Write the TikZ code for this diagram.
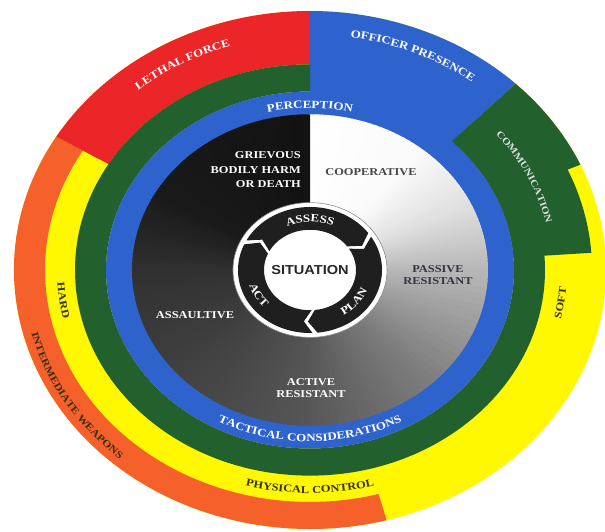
\documentclass[tikz,border=0pt]{standalone}
\usepackage{fontspec}
\usetikzlibrary{decorations.text}

\newfontfamily\ringfont[FakeStretch=1.18]{Liberation Serif}
\newfontfamily\sitfont[FakeStretch=1.12]{Liberation Sans}

\definecolor{lethalred}{RGB}{236,38,40}
\definecolor{presblue}{RGB}{46,98,204}
\definecolor{commgreen}{RGB}{34,96,46}
\definecolor{softyellow}{RGB}{255,248,0}
\definecolor{weaporange}{RGB}{246,96,42}
\definecolor{labeldark}{RGB}{52,48,22}
\definecolor{coopgray}{RGB}{70,70,70}
\definecolor{passivetext}{RGB}{58,50,64}

\tikzset{
  lbl/.style={font=\ringfont\bfseries\fontsize{10.5}{12.5}\selectfont, inner sep=0pt, align=center},
}

% annular sector: colour, from, to, outer radius, inner radius
\newcommand{\ringsector}[5]{%
  \fill[#1] (#2:#4) arc[start angle=#2, end angle=#3, radius=#4]
    -- (#3:#5) arc[start angle=#3, end angle=#2, radius=#5] -- cycle;}
% text on an arc: from, to, radius, text, format
\newcommand{\arclabel}[5]{%
  \path[decorate, decoration={text along path, text align=center, text={|#5|#4}}]
    (#1:#3) arc[start angle=#1, end angle=#2, radius=#3];}
\newcommand{\wfmt}{\ringfont\bfseries\fontsize{11}{12}\selectfont\color{white}}
\newcommand{\dfmt}{\ringfont\bfseries\fontsize{10.5}{12}\selectfont\color{labeldark}}

\begin{document}
\begin{tikzpicture}[x=1pt, y=0.875pt]
  \useasboundingbox (-310pt,-261pt) rectangle (295pt,270pt);

  % outer bands
  \fill[softyellow] (0,0) circle[radius=296];
  \ringsector{weaporange}{149}{285}{296}{265}
  \ringsector{lethalred}{90}{149}{296}{235}
  \ringsector{presblue}{46}{90}{296}{178}
  \fill[commgreen] (46:296) arc[start angle=46, end angle=24, radius=296]
    -- (24:282) arc[start angle=24, end angle=4, radius=282]
    -- (4:204) arc[start angle=4, end angle=46, radius=204] -- cycle;
  \ringsector{commgreen}{90}{406}{235}{204}
  \fill[presblue] (0,0) circle[radius=204];

  % situations disk
  \foreach \ta/\tb/\ba/\bb in {0/40/100/98, 40/65/98/88, 65/90/88/72, 90/135/72/50,
      135/180/50/34, 180/225/34/26, 225/270/26/19, 270/300/19/10, 300/360/10/7}{
    \foreach \k in {0,...,19}{
      \pgfmathsetmacro\wa{\ta+(\tb-\ta)*\k/20}
      \pgfmathsetmacro\wb{\wa+(\tb-\ta)/20}
      \pgfmathsetmacro\wc{\ba+(\bb-\ba)*(\k+0.5)/20}
      \fill[white!\wc!black] (0,0) -- (90-\wa+0.4:178)
        arc[start angle=90-\wa+0.4, end angle=90-\wb, radius=178] -- cycle;
    }
  }

  % assess - plan - act
  \fill[white] (0,0) circle[radius=77];
  \draw[black!45, line width=0.6pt] (0,0) circle[radius=77];
  \foreach \s in {152, 32, -88}{
    \fill[black!88] (\s:72) arc[start angle=\s, end angle=\s-116, radius=72]
      -- (\s-124:59) -- (\s-116:46) arc[start angle=\s-116, end angle=\s, radius=46]
      -- (\s-8:59) -- cycle;
  }
  \node[font=\sitfont\bfseries\fontsize{13}{15}\selectfont, text=black!85, inner sep=0pt] (situation) at (0,0) {SITUATION};
  \arclabel{140}{40}{55}{ASSESS}{\wfmt}
  \arclabel{-70}{-8}{62}{PLAN}{\wfmt}
  \arclabel{180}{238}{63}{ACT}{\wfmt}

  % subject behaviour
  \node[lbl, font=\ringfont\bfseries\fontsize{10.5}{14.5}\selectfont, text=white, anchor=east, align=right] (grievous) at (-9,114.3) {GRIEVOUS\\BODILY HARM\\OR DEATH};
  \node[lbl, text=coopgray] (coop) at (61,112) {COOPERATIVE};
  \node[lbl, text=passivetext] (passive) at (128,-5.7) {PASSIVE\\RESISTANT};
  \node[lbl, text=white] (assault) at (-115,-51.4) {ASSAULTIVE};
  \node[lbl, text=white] (active) at (1,-134.9) {ACTIVE\\RESISTANT};

  % ring labels
  \arclabel{112}{68}{185}{PERCEPTION}{\wfmt}
  \arclabel{230}{310}{196}{TACTICAL CONSIDERATIONS}{\wfmt}
  \arclabel{144}{94}{268}{LETHAL FORCE}{\wfmt}
  \arclabel{87}{47}{269}{OFFICER PRESENCE}{\wfmt}
  \arclabel{48}{4}{242}{COMMUNICATION}{\ringfont\bfseries\fontsize{9.5}{11}\selectfont\color{white!88!black}}
  \arclabel{-22}{5}{257}{SOFT}{\dfmt}
  \arclabel{176}{200}{253}{HARD}{\dfmt}
  \arclabel{240}{300}{255}{PHYSICAL CONTROL}{\dfmt}
  \arclabel{180}{242}{288}{INTERMEDIATE WEAPONS}{\ringfont\bfseries\fontsize{10}{11}\selectfont\color{labeldark}}
\end{tikzpicture}
\end{document}
